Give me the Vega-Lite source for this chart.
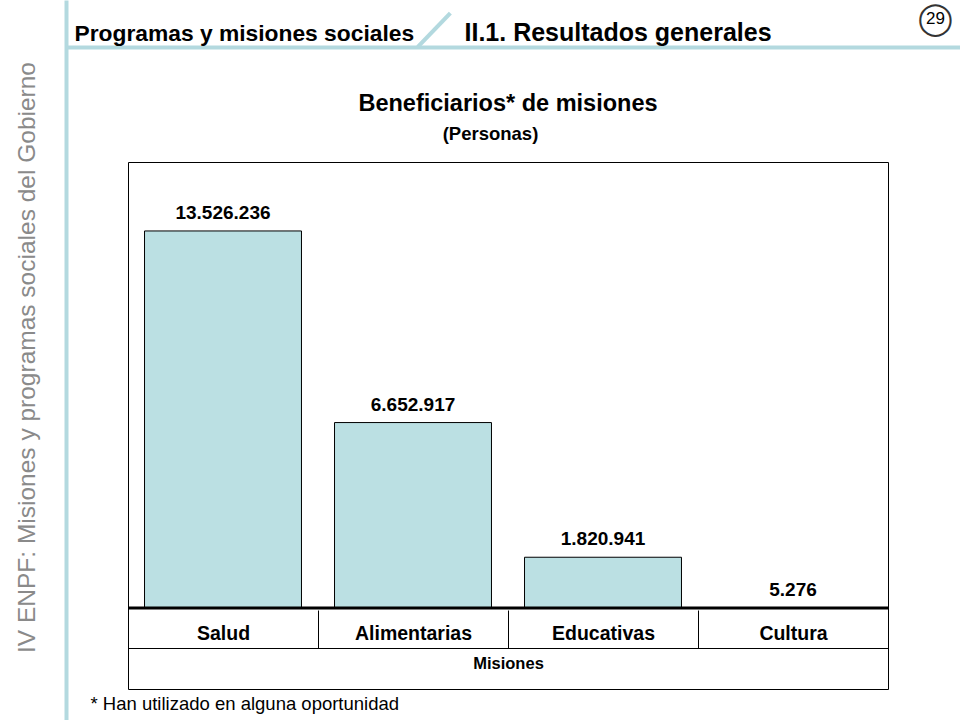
{
  "$schema": "https://vega.github.io/schema/vega-lite/v6.json",
  "width": 760,
  "height": 527,
  "autosize": "none",
  "padding": {"left": 128, "top": 162, "right": 72, "bottom": 31},
  "background": "white",
  "data": {
    "values": [
      {"mision": "Salud", "beneficiarios": 13526236},
      {"mision": "Alimentarias", "beneficiarios": 6652917},
      {"mision": "Educativas", "beneficiarios": 1820941},
      {"mision": "Cultura", "beneficiarios": 5276}
    ]
  },
  "title": {
    "text": "Beneficiarios* de misiones",
    "frame": "group",
    "anchor": "middle",
    "offset": -113,
    "font": "Liberation Sans",
    "fontSize": 23.5,
    "fontWeight": "bold",
    "color": "black"
  },
  "layer": [
    {
      "layer": [
        {
          "mark": {"type": "bar", "fill": "#bbe0e3", "stroke": "black", "strokeWidth": 1, "width": {"band": 0.826}},
          "encoding": {
            "x": {
              "field": "mision", "type": "nominal", "sort": null,
              "scale": {"paddingInner": 0, "paddingOuter": 0},
              "axis": {
                "orient": "bottom", "offset": -41,
                "domain": true, "domainColor": "black", "domainWidth": 1,
                "ticks": true, "tickBand": "extent", "tickSize": -38, "tickColor": "black", "tickWidth": 1,
                "grid": false,
                "labels": true, "labelAngle": 0, "labelFont": "Liberation Sans", "labelFontSize": 19.5,
                "labelFontWeight": "bold", "labelColor": "black", "labelBaseline": "middle",
                "labelPadding": 23, "labelOverlap": false, "labelLimit": 400,
                "title": "Misiones", "titleFont": "Liberation Sans", "titleFontSize": 16.5,
                "titleFontWeight": "bold", "titleColor": "black", "titleX": 380, "titleY": 15,
                "titleAlign": "center", "titleBaseline": "middle", "titleLimit": 1000
              }
            },
            "y": {
              "field": "beneficiarios", "type": "quantitative",
              "scale": {"domain": [0, 16000000], "range": [446, 0]},
              "axis": null
            }
          }
        },
        {
          "mark": {"type": "text", "baseline": "alphabetic", "dy": -12, "font": "Liberation Sans", "fontSize": 19, "fontWeight": "bold", "color": "black"},
          "encoding": {
            "x": {"field": "mision", "type": "nominal", "sort": null, "title": "Misiones"},
            "y": {"field": "beneficiarios", "type": "quantitative", "axis": null},
            "text": {"field": "beneficiarios", "type": "quantitative", "format": ",d"}
          }
        },
        {
          "data": {"values": [{"base": 0}]},
          "mark": {"type": "rule", "color": "black", "strokeWidth": 3},
          "encoding": {"y": {"field": "base", "type": "quantitative", "axis": null}}
        }
      ]
    },
    {
      "mark": {"type": "point", "opacity": 0},
      "encoding": {
        "x": {
          "field": "mision", "type": "nominal", "sort": null,
          "scale": {"range": [-63, 832]},
          "axis": {
            "orient": "top", "offset": 115, "domain": true, "domainColor": "#b3d9df", "domainWidth": 4,
            "ticks": false, "labels": false, "grid": false,
            "title": "Programas y misiones sociales", "titleX": -54, "titleY": -7,
            "titleAlign": "left", "titleBaseline": "alphabetic", "titleFont": "Liberation Sans",
            "titleFontSize": 22.8, "titleFontWeight": "bold", "titleColor": "black", "titleLimit": 1000
          }
        },
        "y": {
          "field": "beneficiarios", "type": "quantitative",
          "scale": {"range": [558, -162]},
          "axis": {
            "orient": "left", "offset": 62, "domain": true, "domainColor": "#b3d9df", "domainWidth": 4,
            "ticks": false, "labels": false, "grid": false,
            "title": "IV ENPF:  Misiones y programas sociales del Gobierno",
            "titleAngle": -90, "titleX": -32, "titleY": 195, "titleAlign": "center",
            "titleBaseline": "alphabetic", "titleFont": "Liberation Sans", "titleFontSize": 24.5,
            "titleFontWeight": "normal", "titleColor": "#8a8a8a", "titleLimit": 1000
          }
        }
      }
    },
    {
      "mark": {"type": "point", "opacity": 0},
      "encoding": {
        "x": {
          "field": "mision", "type": "nominal", "sort": null,
          "axis": {
            "orient": "bottom", "offset": 0, "domain": false, "ticks": false, "labels": false, "grid": false,
            "title": "* Han utilizado en alguna oportunidad", "titleX": -38, "titleY": 20,
            "titleAlign": "left", "titleBaseline": "alphabetic", "titleFont": "Liberation Sans",
            "titleFontSize": 18.5, "titleFontWeight": "normal", "titleColor": "black", "titleLimit": 1000
          }
        },
        "y": {
          "field": "beneficiarios", "type": "quantitative",
          "axis": {
            "orient": "right", "offset": 0, "domain": false, "ticks": false, "labels": false, "grid": false,
            "title": "29", "titleAngle": 0, "titleX": 47, "titleY": -144,
            "titleAlign": "center", "titleBaseline": "middle", "titleFont": "Liberation Sans",
            "titleFontSize": 17, "titleFontWeight": "normal", "titleColor": "black", "titleLimit": 1000
          }
        }
      }
    },
    {
      "mark": {"type": "point", "opacity": 0},
      "encoding": {
        "x": {
          "field": "mision", "type": "nominal", "sort": null,
          "axis": {
            "orient": "top", "offset": 0, "domain": false, "ticks": false, "labels": false, "grid": false,
            "title": "II.1. Resultados generales", "titleX": 336, "titleY": -122,
            "titleAlign": "left", "titleBaseline": "alphabetic", "titleFont": "Liberation Sans",
            "titleFontSize": 25, "titleFontWeight": "bold", "titleColor": "black", "titleLimit": 1000
          }
        },
        "y": {
          "field": "beneficiarios", "type": "quantitative",
          "axis": {
            "orient": "left", "offset": 0, "domain": false, "ticks": false, "labels": false, "grid": false,
            "title": "|", "titleAngle": 44, "titleX": 307, "titleY": -134,
            "titleAlign": "center", "titleBaseline": "middle", "titleFont": "Liberation Sans",
            "titleFontSize": 50, "titleFontWeight": "normal", "titleColor": "#b3d9df", "titleLimit": 1000
          }
        }
      }
    },
    {
      "mark": {"type": "point", "opacity": 0},
      "encoding": {
        "x": {
          "field": "mision", "type": "nominal", "sort": null,
          "axis": {
            "orient": "top", "offset": 0, "domain": false, "ticks": false, "labels": false, "grid": false,
            "title": "(Personas)", "titleX": 362, "titleY": -29,
            "titleAlign": "center", "titleBaseline": "middle", "titleFont": "Liberation Sans",
            "titleFontSize": 18.5, "titleFontWeight": "bold", "titleColor": "black", "titleLimit": 1000
          }
        },
        "y": {
          "field": "beneficiarios", "type": "quantitative",
          "axis": {
            "orient": "right", "offset": 0, "domain": false, "ticks": false, "labels": false, "grid": false,
            "title": "◯", "titleAngle": 0, "titleX": 47, "titleY": -144,
            "titleAlign": "center", "titleBaseline": "middle", "titleFont": "DejaVu Sans",
            "titleFontSize": 32, "titleFontWeight": "normal", "titleColor": "#333333", "titleLimit": 1000
          }
        }
      }
    }
  ],
  "resolve": {
    "scale": {"x": "independent", "y": "independent"},
    "axis": {"x": "independent", "y": "independent"}
  },
  "config": {
    "view": {"stroke": "black", "strokeWidth": 1},
    "font": "Liberation Sans",
    "locale": {
      "number": {"decimal": ",", "thousands": ".", "grouping": [3], "currency": ["", " €"]}
    }
  }
}
